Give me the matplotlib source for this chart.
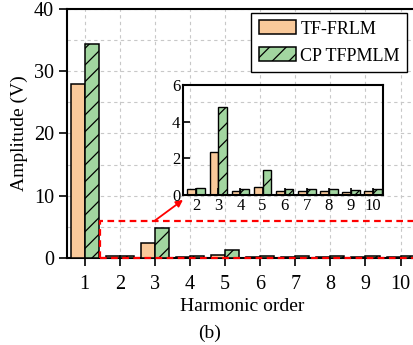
import numpy as np
import matplotlib
matplotlib.use("Agg")
import matplotlib.pyplot as plt

# harmonic amplitudes
orders = [1, 2, 3, 4, 5, 6, 7, 8, 9, 10]
tf_frlm = [27.9, 0.3, 2.35, 0.2, 0.45, 0.2, 0.2, 0.2, 0.15, 0.2]
cp_tfpmlm = [34.3, 0.4, 4.8, 0.3, 1.35, 0.3, 0.35, 0.3, 0.25, 0.3]
labels = ["TF-FRLM", "CP TFPMLM"]

orange = "#F9C99A"
green = "#A2D6A0"

plt.rcParams["font.family"] = ["Liberation Serif", "DejaVu Serif"]
plt.rcParams["hatch.linewidth"] = 0.9

fig = plt.figure(figsize=(4.14, 3.45), dpi=100)
ax = fig.add_axes([0.162, 0.2522, 0.848, 0.7217])

x = np.array(orders)
w = 0.4
ax.bar(x - w / 2, tf_frlm, w, color=orange, edgecolor="black", linewidth=1.1,
       label=labels[0], zorder=3)
ax.bar(x + w / 2, cp_tfpmlm, w, color=green, edgecolor="black", linewidth=1.1,
       hatch="//", label=labels[1], zorder=3)

ax.set_xlim(0.5, 10.5)
ax.set_ylim(0, 40)
ax.set_xticks(orders)
ax.set_yticks([0, 10, 20, 30, 40])
ax.set_yticks([5, 15, 25, 35], minor=True)
ax.grid(True, which="both", linestyle=(0, (3, 3)), color="#c8c8c8", linewidth=0.8, zorder=0)
ax.tick_params(which="major", direction="out", length=6, width=1.2, labelsize=14.5)
ax.tick_params(axis="x", pad=6)
ax.tick_params(which="minor", length=0)
for s in ax.spines.values():
    s.set_linewidth(1.5)
ax.set_xlabel("Harmonic order", fontsize=14, labelpad=3)
ax.set_ylabel("Amplitude (V)", fontsize=14, labelpad=4)

# zoom region marker
ax.plot([1.43, 1.43, 10.6], [0, 6, 6], color="red", linestyle=(0, (3, 2)), linewidth=1.6,
        zorder=4, clip_on=False)
ax.plot([1.43, 10.6], [0, 0], color="red", linestyle=(0, (3, 2)), linewidth=1.6,
        zorder=4, clip_on=False)

leg = ax.legend(loc="upper right", bbox_to_anchor=(0.983, 0.962),
                bbox_transform=fig.transFigure, fontsize=13, fancybox=False,
                edgecolor="black", framealpha=1, borderaxespad=0, handlelength=2.05,
                handleheight=0.8, borderpad=0.4, labelspacing=0.55, handletextpad=0.25)
leg.get_frame().set_linewidth(1.0)

# inset
axin = fig.add_axes([0.442, 0.435, 0.483, 0.319])
axin.set_facecolor("none")
axin.bar(x[1:] - w / 2, tf_frlm[1:], w, color=orange, edgecolor="black", linewidth=1.0)
axin.bar(x[1:] + w / 2, cp_tfpmlm[1:], w, color=green, edgecolor="black", linewidth=1.0,
         hatch="//")
axin.set_xlim(1.4, 10.45)
axin.set_ylim(0, 6)
axin.set_xticks(orders[1:])
axin.set_yticks([0, 2, 4, 6])
axin.tick_params(direction="in", length=5, width=1.2, labelsize=12, pad=2)
for s in axin.spines.values():
    s.set_linewidth(1.5)

ax.annotate("", xy=(0.0, -0.045), xycoords=axin.transAxes, xytext=(3.0, 6.0),
            textcoords="data",
            arrowprops=dict(arrowstyle="-|>", color="red", lw=1.3, mutation_scale=10,
                            shrinkA=0, shrinkB=0), zorder=5)

fig.text(0.507, 0.035, "(b)", fontsize=14, ha="center", va="center")

fig.savefig("out.png", dpi=100)
